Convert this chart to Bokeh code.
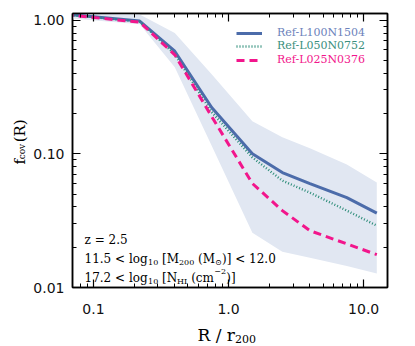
import math
from bokeh.plotting import figure
from bokeh.layouts import row, column
from bokeh.models import (Range1d, LogAxis, FixedTicker, PrintfTickFormatter,
                          CustomJSTickFormatter, Label, Legend, LegendItem)
from bokeh.embed import file_html
from bokeh.resources import INLINE

# ---------------- data ----------------
r_bins = [0.05, 0.22, 0.40, 0.75, 1.5, 2.5, 4.0, 7.5, 12.5]
f_L100 = [1.13, 0.983, 0.585, 0.222, 0.100, 0.0724, 0.0599, 0.047, 0.036]
f_L050 = [1.12, 0.975, 0.556, 0.205, 0.094, 0.063, 0.0512, 0.0376, 0.029]
f_L025 = [1.12, 0.966, 0.55, 0.19, 0.060, 0.0376, 0.0266, 0.0212, 0.0176]
band_hi = [1.16, 1.10, 0.80, 0.394, 0.175, 0.133, 0.11, 0.083, 0.061]
band_lo = [1.06, 0.93, 0.443, 0.115, 0.0257, 0.0185, 0.0167, 0.0145, 0.0127]

names = ["Ref-L100N1504", "Ref-L050N0752", "Ref-L025N0376"]

x_major = [0.1, 1.0, 10.0]
x_minor = [0.08, 0.09, 0.2, 0.3, 0.4, 0.5, 0.6, 0.7, 0.8, 0.9,
           2, 3, 4, 5, 6, 7, 8, 9]
y_major = [0.01, 0.1, 1.0]
y_minor = [0.02, 0.03, 0.04, 0.05, 0.06, 0.07, 0.08, 0.09,
           0.2, 0.3, 0.4, 0.5, 0.6, 0.7, 0.8, 0.9]

# ---------------- styles ----------------
C_BLUE = "#4c6caa"
C_GREEN = "#2b8c78"
C_PINK = "#f2168c"
C_BLUE_TXT = "#6c82bb"
C_GREEN_TXT = "#3a8f7d"
C_BAND = "#e1e7f2"
SERIF = "DejaVu Serif"
SANS = "DejaVu Sans"

YW = 30                  # width of the strip holding the vertical title
FL, FT, FB = 71, 13, 287  # frame left / top / bottom in page px
FW, FH = 315, 274
PB = 36                  # bottom border of main plot
PH = FT + FH + PB        # main plot height
XH = 22                  # height of strip holding the x title

p = figure(frame_width=FW, frame_height=FH, x_axis_type="log", y_axis_type="log",
           x_range=Range1d(0.07, 15.0), y_range=Range1d(0.01, 1.12),
           output_backend="svg", toolbar_location=None,
           min_border_left=FL - YW, min_border_right=20,
           min_border_top=FT, min_border_bottom=PB)
p.xgrid.visible = False
p.ygrid.visible = False
p.outline_line_color = "black"
p.outline_line_width = 1.5
p.background_fill_color = "white"


def style_axis(ax, show_labels, fmt, standoff):
    ax.axis_line_color = "black"
    ax.axis_line_width = 1.5
    ax.major_tick_in = 8
    ax.major_tick_out = 0
    ax.minor_tick_in = 4
    ax.minor_tick_out = 0
    ax.major_tick_line_color = "black"
    ax.minor_tick_line_color = "black"
    ax.major_tick_line_width = 1.2
    ax.minor_tick_line_width = 1.0
    if show_labels:
        ax.formatter = PrintfTickFormatter(format=fmt)
        ax.major_label_text_font = SANS
        ax.major_label_text_font_size = "14px"
        ax.major_label_text_color = "#111111"
        ax.major_label_standoff = standoff
    else:
        ax.formatter = CustomJSTickFormatter(code="return ''")
        ax.major_label_standoff = 0


p.xaxis.ticker = FixedTicker(ticks=x_major, minor_ticks=x_minor)
p.yaxis.ticker = FixedTicker(ticks=y_major, minor_ticks=y_minor)
style_axis(p.xaxis[0], True, "%.1f", 16)
style_axis(p.yaxis[0], True, "%.2f", 8)

ax_top = LogAxis(ticker=FixedTicker(ticks=x_major, minor_ticks=x_minor))
style_axis(ax_top, False, "%.1f", 0)
p.add_layout(ax_top, "above")
ax_right = LogAxis(ticker=FixedTicker(ticks=y_major, minor_ticks=y_minor))
style_axis(ax_right, False, "%.2f", 0)
p.add_layout(ax_right, "right")

# ---------------- marks ----------------
p.varea(x=r_bins, y1=band_lo, y2=band_hi, fill_color=C_BAND, fill_alpha=1.0)
r1 = p.line(r_bins, f_L100, line_color=C_BLUE, line_width=3)
r2 = p.line(r_bins, f_L050, line_color=C_GREEN, line_width=2.4, line_dash="1 2")
r3 = p.line(r_bins, f_L025, line_color=C_PINK, line_width=3, line_dash="8 5")

# ---------------- legend (three single-item legends, own colours) ----------------
leg_rows = [(r1, names[0], C_BLUE_TXT, 33), (r2, names[1], C_GREEN_TXT, 46),
            (r3, names[2], C_PINK, 60)]
for rend, lab, col, cy in leg_rows:
    lg = Legend(items=[LegendItem(label=lab, renderers=[rend])],
                location=(235 - FL, FB - (cy + 6)),
                label_text_color=col, label_text_font=SERIF,
                label_text_font_size="11px", glyph_width=26, glyph_height=12,
                label_height=12, label_standoff=15, padding=0, margin=0,
                spacing=0, border_line_alpha=0, background_fill_alpha=0)
    p.add_layout(lg)

# ---------------- text helpers ----------------
W = {'0': .636, '1': .636, '2': .636, '3': .636, '4': .636, '5': .636,
     '6': .636, '7': .636, '8': .636, '9': .636, ' ': .318, '.': .318,
     '<': .838, '=': .838, 'l': .320, 'o': .602, 'g': .635, '[': .390,
     ']': .390, '(': .390, ')': .390, 'M': .995, 'N': .812, 'c': .560,
     'm': .948, 'z': .525, 'H': .872, 'I': .422, '\u2212': .838,
     '\u2299': .838, 'R': .730, 'r': .478, '/': .337, 'f': .370, 'v': .565}


def tw(s, size):
    return sum(W.get(ch, .6) for ch in s) * size


def run_in_frame(pieces, x0, base):
    """pieces: (gap_before_px, text, size, baseline shift px); frame-relative screen units."""
    pos = x0
    for gap, text, size, shift in pieces:
        pos += gap
        p.add_layout(Label(x=pos - FL, y=FB - (base + shift), x_units="screen",
                           y_units="screen", text=text, text_font=SERIF,
                           text_font_size=f"{size}px", text_color="black",
                           text_align="left", text_baseline="alphabetic"))
        pos += tw(text, size)


SP = 0.318 * 12
run_in_frame([(0, "z = 2.5", 12, 0)], 83, 239)
run_in_frame([(0, "11.5 < log", 12, 0), (0.5, "10", 8, 4), (SP, "[M", 12, 0),
              (0.3, "200", 8, 4), (SP, "(M", 12, 0), (0.3, "\u2299", 8, 4),
              (0.3, ")] < 12.0", 12, 0)], 83, 258)
run_in_frame([(0, "17.2 < log", 12, 0), (0.5, "10", 8, 4), (SP, "[N", 12, 0),
              (0.5, "HI", 8, 4), (SP, "(cm", 12, 0), (0.3, "\u22122", 8, -6),
              (0.3, ")]", 12, 0)], 83, 277)


def blank(w, h):
    f = figure(width=w, height=h, x_range=Range1d(0, w), y_range=Range1d(0, h),
               output_backend="svg", toolbar_location=None, min_border=0,
               x_axis_location=None, y_axis_location=None)
    f.grid.visible = False
    f.outline_line_color = None
    f.background_fill_color = "white"
    f.border_fill_color = "white"
    return f


# vertical axis title in its own strip (page x 0..YW, page y 0..PH)
yfig = blank(YW, PH)
ypos = 178
for gap, text, size, shift in [(0, "f", 15, 0), (0.5, "cov", 9, 2.5), (4.5, "(R)", 15, 0)]:
    ypos -= gap
    yfig.add_layout(Label(x=19 + shift, y=PH - ypos, text=text, text_font=SERIF,
                          text_font_size=f"{size}px", text_color="black",
                          text_align="left", text_baseline="alphabetic",
                          angle=math.pi / 2))
    ypos -= tw(text, size)

# horizontal axis title in its own strip (page y PH..PH+XH)
TOTW = FL + FW + 20
xfig = blank(TOTW, XH)
xpos = 197
for gap, text, size, shift in [(0, "R / r", 17, 0), (0.5, "200", 11, 4)]:
    xpos += gap
    xfig.add_layout(Label(x=xpos, y=XH - (334 + shift - PH), text=text,
                          text_font=SERIF, text_font_size=f"{size}px",
                          text_color="black", text_align="left",
                          text_baseline="alphabetic"))
    xpos += tw(text, size)

layout = column(row(yfig, p, spacing=0), xfig, spacing=0)
open("out.html", "w").write(file_html(layout, INLINE))
